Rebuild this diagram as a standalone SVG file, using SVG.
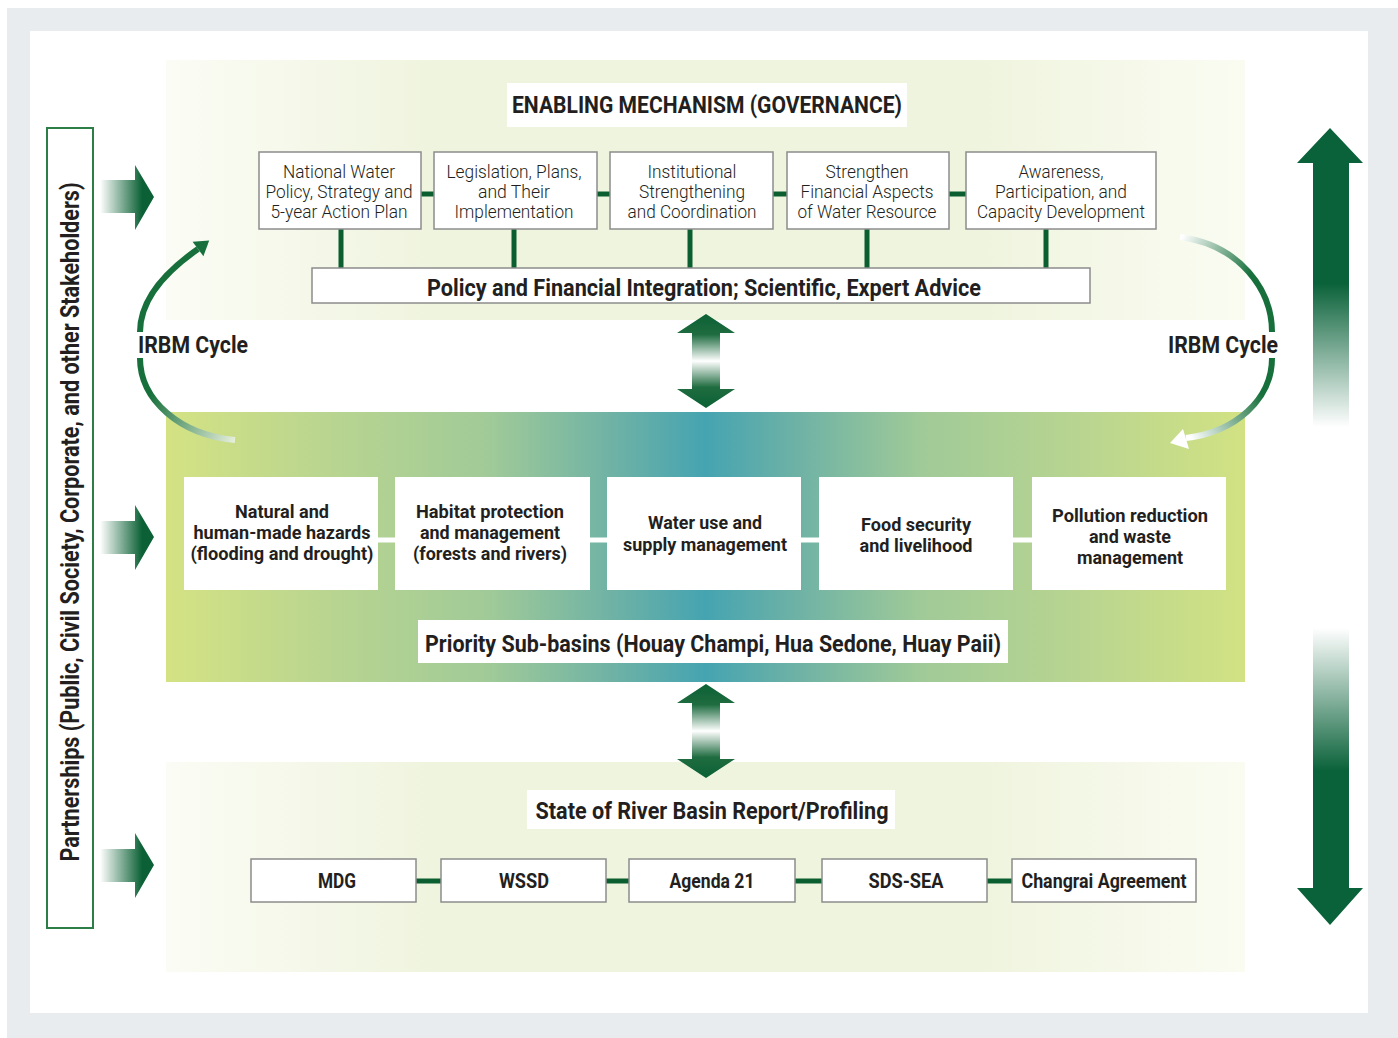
<svg xmlns="http://www.w3.org/2000/svg" width="1398" height="1038" viewBox="0 0 1398 1038">
<defs>
<style>
.t{font-family:Roboto,"Liberation Sans",sans-serif;fill:#231f20;text-anchor:middle}
.b{font-weight:700}
.l{font-weight:300;font-size:17.5px}
.m{font-weight:700;font-size:18.5px}
.bx{fill:#fff;stroke:#8c8c8c;stroke-width:1.5}
.wb{fill:#fff}
.gc{stroke:#0b5e30;stroke-width:5;fill:none}
.wc{stroke:#fff;stroke-width:5;fill:none}
</style>
<linearGradient id="gPanel" x1="0" y1="0" x2="1" y2="0">
<stop offset="0" stop-color="#fbfcf5"/><stop offset="0.25" stop-color="#eff4de"/><stop offset="0.75" stop-color="#eff4de"/><stop offset="1" stop-color="#fafcf2"/>
</linearGradient>
<linearGradient id="gBand" x1="0" y1="0" x2="1" y2="0">
<stop offset="0" stop-color="#d4e283"/><stop offset="0.15" stop-color="#b9d590"/><stop offset="0.3" stop-color="#a0ca98"/><stop offset="0.42" stop-color="#6cb1a6"/><stop offset="0.5" stop-color="#45a4b1"/><stop offset="0.58" stop-color="#6cb1a6"/><stop offset="0.7" stop-color="#a0ca98"/><stop offset="0.85" stop-color="#b9d590"/><stop offset="1" stop-color="#d2e283"/>
</linearGradient>
<linearGradient id="gSide" gradientUnits="userSpaceOnUse" x1="100" y1="0" x2="142" y2="0">
<stop offset="0" stop-color="#ffffff"/><stop offset="1" stop-color="#0b6135"/>
</linearGradient>
<linearGradient id="gDbl" x1="0" y1="0" x2="0" y2="1">
<stop offset="0" stop-color="#0b6135"/><stop offset="0.22" stop-color="#1f6c40"/><stop offset="0.5" stop-color="#ffffff"/><stop offset="0.78" stop-color="#1f6c40"/><stop offset="1" stop-color="#0b6135"/>
</linearGradient>
<linearGradient id="gUp" x1="0" y1="0" x2="0" y2="1">
<stop offset="0" stop-color="#0a623a"/><stop offset="0.52" stop-color="#0a623a"/><stop offset="1" stop-color="#ffffff"/>
</linearGradient>
<linearGradient id="gDown" x1="0" y1="0" x2="0" y2="1">
<stop offset="0" stop-color="#ffffff"/><stop offset="0.48" stop-color="#0a623a"/><stop offset="1" stop-color="#0a623a"/>
</linearGradient>
<linearGradient id="gArcL" gradientUnits="userSpaceOnUse" x1="150" y1="395" x2="235" y2="440">
<stop offset="0" stop-color="#17703c"/><stop offset="1" stop-color="#e6efdb"/>
</linearGradient>
<linearGradient id="gArcRT" gradientUnits="userSpaceOnUse" x1="1182" y1="237" x2="1250" y2="275">
<stop offset="0" stop-color="#ffffff"/><stop offset="1" stop-color="#17703c"/>
</linearGradient>
<linearGradient id="gArcRB" gradientUnits="userSpaceOnUse" x1="1262" y1="395" x2="1192" y2="440">
<stop offset="0" stop-color="#17703c"/><stop offset="1" stop-color="#ffffff"/>
</linearGradient>
</defs>

<rect x="0" y="0" width="1398" height="1038" fill="#ffffff"/>
<rect x="7" y="8" width="1391" height="1030" fill="#e8ecef"/>
<rect x="30" y="31" width="1338" height="982" fill="#ffffff"/>

<g id="panels">
<rect x="166" y="60" width="1079" height="260" fill="url(#gPanel)"/>
<rect x="166" y="412" width="1079" height="270" fill="url(#gBand)"/>
<rect x="166" y="762" width="1079" height="210" fill="url(#gPanel)"/>
</g>

<g id="partnerships">
<rect x="47" y="128" width="46" height="800" fill="#fff" stroke="#2d7d46" stroke-width="2"/>
<text class="t b" font-size="25" transform="translate(79,522) rotate(-90)" textLength="679" lengthAdjust="spacingAndGlyphs">Partnerships (Public, Civil Society, Corporate, and other Stakeholders)</text>
</g>

<g id="side-arrows">
<polygon points="100,180 135,180 135,165 154,197 135,230 135,213 100,213" fill="url(#gSide)"/>
<polygon points="100,521 135,521 135,505 154,537 135,570 135,554 100,554" fill="url(#gSide)"/>
<polygon points="100,849 135,849 135,833 154,865 135,898 135,882 100,882" fill="url(#gSide)"/>
</g>

<g id="connectors">
<line class="gc" x1="421" y1="194" x2="434" y2="194"/>
<line class="gc" x1="597" y1="194" x2="610" y2="194"/>
<line class="gc" x1="773" y1="194" x2="787" y2="194"/>
<line class="gc" x1="949" y1="194" x2="966" y2="194"/>
<line class="gc" x1="341" y1="229" x2="341" y2="268"/>
<line class="gc" x1="514" y1="229" x2="514" y2="268"/>
<line class="gc" x1="690" y1="229" x2="690" y2="268"/>
<line class="gc" x1="867" y1="229" x2="867" y2="268"/>
<line class="gc" x1="1046" y1="229" x2="1046" y2="268"/>
<line class="wc" x1="378" y1="540" x2="395" y2="540"/>
<line class="wc" x1="590" y1="540" x2="607" y2="540"/>
<line class="wc" x1="801" y1="540" x2="819" y2="540"/>
<line class="wc" x1="1013" y1="540" x2="1032" y2="540"/>
<line class="gc" x1="416" y1="881" x2="441" y2="881"/>
<line class="gc" x1="606" y1="881" x2="629" y2="881"/>
<line class="gc" x1="795" y1="881" x2="822" y2="881"/>
<line class="gc" x1="987" y1="881" x2="1012" y2="881"/>
<polygon points="706,314 735,333 720,333 720,389 735,389 706,408 677,389 692,389 692,333 677,333" fill="url(#gDbl)"/>
<polygon points="706,684 735,703 720,703 720,759 735,759 706,778 677,759 692,759 692,703 677,703" fill="url(#gDbl)"/>
<polygon points="1330,128 1363,163 1349,163 1349,427 1313,427 1313,163 1297,163" fill="url(#gUp)"/>
<polygon points="1313,628 1349,628 1349,888 1363,888 1330,925 1297,888 1313,888" fill="url(#gDown)"/>
<path d="M140,332 C140,300 165,272 198,249" fill="none" stroke="#17703c" stroke-width="6"/>
<polygon points="209.2,240.6 203.4,256.2 192.6,241.8" fill="#17703c"/>
<path d="M140,358 C140,400 180,435 235,440" fill="none" stroke="url(#gArcL)" stroke-width="6"/>
<path d="M1272,332 C1272,290 1240,245 1180,237" fill="none" stroke="url(#gArcRT)" stroke-width="6"/>
<path d="M1272,358 C1272,400 1235,432 1186,438" fill="none" stroke="url(#gArcRB)" stroke-width="6"/>
<polygon points="1170,443 1183,429 1189,449" fill="#ffffff"/>
</g>

<g id="irbm-left"><text class="t b" font-size="24" x="193" y="353" textLength="110" lengthAdjust="spacingAndGlyphs">IRBM Cycle</text></g>
<g id="irbm-right"><text class="t b" font-size="24" x="1223" y="353" textLength="110" lengthAdjust="spacingAndGlyphs">IRBM Cycle</text></g>

<g id="enabling">
<rect class="wb" x="507" y="83" width="400" height="44"/>
<text class="t b" font-size="23" x="707" y="113" textLength="390" lengthAdjust="spacingAndGlyphs">ENABLING MECHANISM (GOVERNANCE)</text>
</g>

<g id="gov1"><rect class="bx" x="259" y="152" width="162" height="77"/>
<text class="t l" x="339" y="178" textLength="112" lengthAdjust="spacingAndGlyphs">National Water</text>
<text class="t l" x="339" y="198" textLength="147" lengthAdjust="spacingAndGlyphs">Policy, Strategy and</text>
<text class="t l" x="339" y="218" textLength="137" lengthAdjust="spacingAndGlyphs">5-year Action Plan</text></g>
<g id="gov2"><rect class="bx" x="434" y="152" width="163" height="77"/>
<text class="t l" x="514" y="178" textLength="135" lengthAdjust="spacingAndGlyphs">Legislation, Plans,</text>
<text class="t l" x="514" y="198" textLength="72" lengthAdjust="spacingAndGlyphs">and Their</text>
<text class="t l" x="514" y="218" textLength="119" lengthAdjust="spacingAndGlyphs">Implementation</text></g>
<g id="gov3"><rect class="bx" x="610" y="152" width="163" height="77"/>
<text class="t l" x="692" y="178" textLength="89" lengthAdjust="spacingAndGlyphs">Institutional</text>
<text class="t l" x="692" y="198" textLength="106" lengthAdjust="spacingAndGlyphs">Strengthening</text>
<text class="t l" x="692" y="218" textLength="129" lengthAdjust="spacingAndGlyphs">and Coordination</text></g>
<g id="gov4"><rect class="bx" x="787" y="152" width="162" height="77"/>
<text class="t l" x="867" y="178" textLength="83" lengthAdjust="spacingAndGlyphs">Strengthen</text>
<text class="t l" x="867" y="198" textLength="133" lengthAdjust="spacingAndGlyphs">Financial Aspects</text>
<text class="t l" x="867" y="218" textLength="139" lengthAdjust="spacingAndGlyphs">of Water Resource</text></g>
<g id="gov5"><rect class="bx" x="966" y="152" width="190" height="77"/>
<text class="t l" x="1061" y="178" textLength="85" lengthAdjust="spacingAndGlyphs">Awareness,</text>
<text class="t l" x="1061" y="198" textLength="132" lengthAdjust="spacingAndGlyphs">Participation, and</text>
<text class="t l" x="1061" y="218" textLength="168" lengthAdjust="spacingAndGlyphs">Capacity Development</text></g>

<g id="policy"><rect class="bx" x="312" y="268" width="778" height="35"/>
<text class="t b" font-size="24" x="704" y="296" textLength="554" lengthAdjust="spacingAndGlyphs">Policy and Financial Integration; Scientific, Expert Advice</text></g>

<g id="pri1"><rect class="wb" x="184" y="477" width="194" height="113"/>
<text class="t m" x="282" y="518" textLength="94" lengthAdjust="spacingAndGlyphs">Natural and</text>
<text class="t m" x="282" y="539" textLength="177" lengthAdjust="spacingAndGlyphs">human-made hazards</text>
<text class="t m" x="282" y="560" textLength="183" lengthAdjust="spacingAndGlyphs">(flooding and drought)</text></g>
<g id="pri2"><rect class="wb" x="395" y="477" width="195" height="113"/>
<text class="t m" x="490" y="518" textLength="148" lengthAdjust="spacingAndGlyphs">Habitat protection</text>
<text class="t m" x="490" y="539" textLength="140" lengthAdjust="spacingAndGlyphs">and management</text>
<text class="t m" x="490" y="560" textLength="154" lengthAdjust="spacingAndGlyphs">(forests and rivers)</text></g>
<g id="pri3"><rect class="wb" x="607" y="477" width="194" height="113"/>
<text class="t m" x="705" y="529" textLength="114" lengthAdjust="spacingAndGlyphs">Water use and</text>
<text class="t m" x="705" y="551" textLength="164" lengthAdjust="spacingAndGlyphs">supply management</text></g>
<g id="pri4"><rect class="wb" x="819" y="477" width="194" height="113"/>
<text class="t m" x="916" y="531" textLength="110" lengthAdjust="spacingAndGlyphs">Food security</text>
<text class="t m" x="916" y="552" textLength="113" lengthAdjust="spacingAndGlyphs">and livelihood</text></g>
<g id="pri5"><rect class="wb" x="1032" y="477" width="194" height="113"/>
<text class="t m" x="1130" y="522" textLength="156" lengthAdjust="spacingAndGlyphs">Pollution reduction</text>
<text class="t m" x="1130" y="543" textLength="82" lengthAdjust="spacingAndGlyphs">and waste</text>
<text class="t m" x="1130" y="564" textLength="106" lengthAdjust="spacingAndGlyphs">management</text></g>

<g id="priority"><rect class="wb" x="418" y="620" width="590" height="43"/>
<text class="t b" font-size="24" x="713" y="652" textLength="576" lengthAdjust="spacingAndGlyphs">Priority Sub-basins (Houay Champi, Hua Sedone, Huay Paii)</text></g>

<g id="state"><rect class="wb" x="527" y="790" width="368" height="39"/>
<text class="t b" font-size="24" x="712" y="819" textLength="353" lengthAdjust="spacingAndGlyphs">State of River Basin Report/Profiling</text></g>

<g id="mdg"><rect class="bx" x="251" y="859" width="165" height="43"/>
<text class="t b" font-size="20" x="337" y="888" textLength="38" lengthAdjust="spacingAndGlyphs">MDG</text></g>
<g id="wssd"><rect class="bx" x="441" y="859" width="165" height="43"/>
<text class="t b" font-size="20" x="524" y="888" textLength="50" lengthAdjust="spacingAndGlyphs">WSSD</text></g>
<g id="agenda21"><rect class="bx" x="629" y="859" width="166" height="43"/>
<text class="t b" font-size="20" x="712" y="888" textLength="85" lengthAdjust="spacingAndGlyphs">Agenda 21</text></g>
<g id="sdssea"><rect class="bx" x="822" y="859" width="165" height="43"/>
<text class="t b" font-size="20" x="906" y="888" textLength="75" lengthAdjust="spacingAndGlyphs">SDS-SEA</text></g>
<g id="changrai"><rect class="bx" x="1012" y="859" width="184" height="43"/>
<text class="t b" font-size="20" x="1104" y="888" textLength="165" lengthAdjust="spacingAndGlyphs">Changrai Agreement</text></g>
</svg>
